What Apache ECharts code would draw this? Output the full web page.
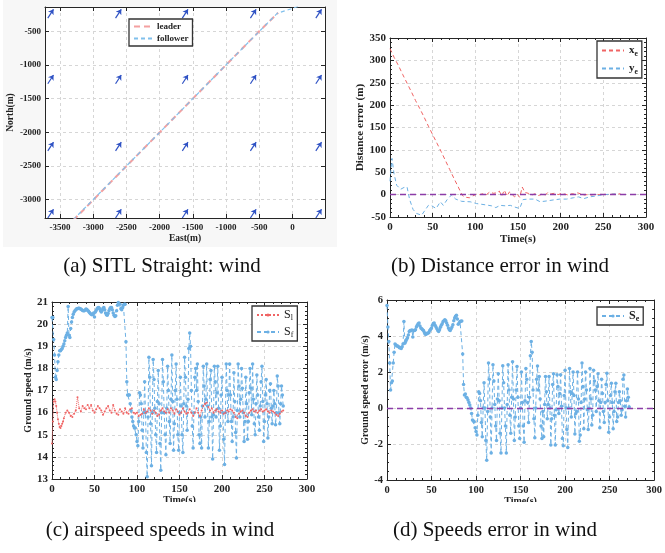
<!DOCTYPE html>
<html><head><meta charset="utf-8">
<script src="https://cdn.jsdelivr.net/npm/echarts@6/dist/echarts.min.js"></script>
<style>html,body{margin:0;padding:0;background:#fff}#c{width:665px;height:553px}</style>
</head><body><div id="c"></div>
<script>
// ---------- (a) SITL straight: wind ----------
const eastTicks = [-3500,-3000,-2500,-2000,-1500,-1000,-500,0];
const northTicks = [-3000,-2500,-2000,-1500,-1000,-500];
const leaderPath = [[-3300,-3310],[-2500,-2505],[-1500,-1502],[-500,-500],[-216,-226]];
const followerPath = [[-3300,-3300],[-2000,-2005],[-1000,-1000],[-230,-235],[105,-126]];
const windEast = [-3640,-2620,-1615,-590,395];
const windNorth = [-3210,-2213,-1215,-240];
const windVec = [86,130];

// ---------- (b) distance error ----------
const xeData = [[0,326],[5,306],[10,288],[15,268],[20,249],[25,230],[30,210],[35,192],[40,173],[45,153],[50,134],[55,115],[60,96],[65,76],[70,56],[75,36],[80,17],[84,1],[86,-4],[89,-6],[93,-7],[97,-3],[101,1],[105,0],[109,2],[113,0],[117,6],[121,3],[125,4],[128,8],[131,-3],[134,10],[137,-3],[140,6],[142,4],[146,-5],[149,1],[152,-6],[155,17],[158,5],[162,3],[166,-1],[170,2],[174,-2],[178,1],[182,-1],[185,5],[189,2],[193,3],[197,0],[201,3],[205,1],[209,-1],[213,2],[217,1],[220,4],[224,1],[227,-1],[231,0],[236,-1],[241,1],[245,0],[250,1],[255,0],[260,1],[265,1],[270,2]];
const yeData = [[0,30],[1,32],[2.3,81],[4.7,47],[7.8,21],[12.5,12],[16.4,16],[20,17],[23,-11],[27,-33],[31,-42],[37,-46],[41,-35],[45,-24],[49,-25],[54,-31],[59,-16],[62.5,-24],[67,-11],[72,-1],[77,-10],[84,-15],[94,-16],[101.5,-20],[109,-22],[119,-25],[124,-29],[129,-24],[135,-25],[141,-24],[146.5,-28],[152,-31],[154,-33],[156,-11],[162,-10],[170,-10],[176,-16],[184,-14],[191,-12],[199,-10],[207,-10],[215,-7],[221,-5],[227,-9],[234,-5],[242,-3],[250,0],[260,1],[267.5,2]];

// ---------- (c) speeds ----------
const slData = [[0,14.6],[1,15.6],[2,16.5],[3,16.6],[4,16.5],[5,16.3],[6,16.0],[7,15.7],[8,15.5],[9,15.35],[10,15.3],[11,15.4],[12,15.5],[13,15.6],[14,15.75],[16,16.0],[18,16.1],[20,16.0],[22,15.85],[24,15.8],[26,15.95],[28,16.1],[30,16.7],[32,16.2],[34,16.05],[36,16.3],[38,16.2],[40,16.15],[42,16.35],[44,16.2],[46,16.35],[48,16.1],[50,16.0],[52,16.15],[54,16.3],[56,16.2],[58,16.1],[60,15.9],[62,16.05],[64,16.2],[66,16.3],[68,16.1],[70,16.0],[72,16.35],[74,16.1],[76,15.95],[78,15.9],[80,16.15],[82,16.05],[84,15.95],[86,16.2],[88,16.0],[90,15.95],[92,16.15],[94,16.2],[96,16.0],[98,15.95],[100,16.0],[102,15.85],[104,15.9],[106,15.95],[108,16.15],[110,16.0],[112,16.05],[114,16.2],[116,16.1],[118,15.95],[120,16.1],[122,16.0],[124,15.85],[126,15.9],[128,16.1],[130,16.2],[132,16.05],[134,16.0],[136,16.15],[138,16.0],[140,16.2],[142,16.1],[144,15.95],[146,16.15],[148,16.05],[150,15.9],[152,16.0],[154,16.2],[156,16.05],[158,15.95],[160,16.0],[162,16.15],[164,16.0],[166,15.85],[168,16.0],[170,16.2],[172,16.0],[174,15.85],[176,16.1],[178,16.3],[180,16.4],[182,16.45],[184,16.25],[186,16.1],[188,16.2],[190,16.0],[192,16.1],[194,16.15],[196,16.05],[198,16.0],[200,16.1],[202,15.95],[204,16.0],[206,16.1],[208,16.05],[210,16.15],[212,16.1],[214,16.0],[216,15.8],[218,15.75],[220,15.95],[222,16.05],[224,16.1],[226,16.0],[228,15.85],[230,15.8],[232,16.0],[234,16.1],[236,16.15],[238,16.05],[240,16.1],[242,16.0],[244,16.1],[246,16.15],[248,16.05],[250,16.1],[252,16.15],[254,16.05],[256,16.0],[258,16.1],[260,16.05],[262,16.0],[264,15.9],[266,15.85],[268,15.95],[270,16.05],[272,16.1]];
const sfData = [[0,20.3],[1,20.3],[2,19.3],[3,18.6],[4,17.6],[5,17.5],[6,17.9],[7,18.3],[8,18.6],[9,18.8],[10,18.8],[11,18.85],[12,18.9],[13,19.0],[14,19.1],[15,19.25],[16,19.4],[17,19.5],[18,19.6],[19,20.8],[20,19.5],[21,19.4],[22,19.8],[23,20.1],[24,20.3],[25,20.45],[26,20.55],[27,20.6],[28,20.65],[29,20.7],[30,20.7],[31,20.72],[32,20.72],[33,20.7],[34,20.68],[35,20.65],[36,20.62],[37,20.6],[38,20.6],[39,20.64],[40,20.68],[41,20.66],[42,20.62],[43,20.58],[44,20.52],[45,20.48],[46,20.45],[47,20.42],[48,20.45],[49,20.5],[50,20.32],[51,20.55],[52,20.62],[53,20.7],[54,20.74],[55,20.75],[56,20.7],[57,20.6],[58,20.55],[59,20.62],[60,20.72],[61,20.75],[62,20.65],[63,20.5],[64,20.42],[65,20.4],[66,20.48],[67,20.6],[68,20.7],[69,20.75],[70,20.75],[71,20.65],[72,20.5],[73,20.4],[74,20.35],[75,20.38],[76,20.6],[77,20.85],[78,20.98],[79,21.05],[80,20.9],[81,20.7],[82,20.65],[83,20.75],[84,20.85],[85,20.9],[86,20.9],[87,19.2],[88,17.4],[89,16.8],
[90,16.8],[91,16.8],[92,16.4],[93,16.1],[94,15.8],[95,15.6],[96,15.4],[97,15.3],[98,15.3],[99,15.0],[100,14.7],[101,14.5],[102,15.6],[103,16.9],[104,16.8],[105,16.4],[106,15.2],[107,14.4],[108,16.0],[109,17.4],[110,16.0],[111,14.2],[112,13.1],[113,15.8],[114,18.5],[115,17.6],[116,15.5],[117,13.6],[118,16.0],[119,18.4],[120,17.5],[121,16.2],[122,15.0],[123,14.2],[124,16.5],[125,17.9],[126,16.4],[127,14.6],[128,13.4],[129,16.0],[130,18.4],[131,17.4],[132,16.0],[133,15.0],[134,14.1],[135,16.2],[136,18.1],[137,17.0],[138,15.6],[139,14.6],[140,16.6],[141,18.6],[142,16.5],[143,14.3],[144,15.5],[145,17.0],[146,18.2],[147,16.6],[148,15.0],[149,14.3],[150,16.0],[151,17.6],[152,16.3],[153,15.0],[154,14.2],[155,16.4],[156,18.5],[157,17.6],[158,16.3],[159,15.2],[160,16.6],[161,18.9],[162,19.6],[163,19.0],[164,17.0],[165,15.4],[166,14.4],[167,16.0],[168,17.6],[169,18.0],[170,17.0],[171,18.2],[172,16.5],[173,15.0],[174,14.6],[175,15.8],[176,14.4],[177,16.3],[178,18.1],[179,17.2],[180,15.8],[181,16.6],[182,18.2],[183,16.3],[184,14.4],[185,15.6],[186,17.5],[187,17.9],[188,15.8],[189,13.9],[190,15.9],[191,18.1],[192,17.4],[193,15.8],[194,16.9],[195,18.1],[196,16.2],[197,14.3],[198,15.4],[199,16.8],[200,17.6],[201,16.0],[202,14.8],[203,13.65],[204,16.0],[205,18.2],[206,17.0],[207,15.6],[208,16.8],[209,18.2],[210,16.8],[211,15.6],[212,14.7],[213,15.8],[214,17.8],[215,16.5],[216,15.1],[217,13.95],[218,16.1],[219,18.2],[220,17.2],[221,15.8],[222,16.6],[223,18.0],[224,17.1],[225,16.0],[226,14.7],[227,15.6],[228,17.6],[229,16.4],[230,14.8],[231,15.6],[232,16.9],[233,18.0],[234,17.1],[235,15.9],[236,18.2],[237,16.6],[238,15.5],[239,15.0],[240,16.4],[241,17.7],[242,16.8],[243,15.8],[244,15.2],[245,16.3],[246,17.4],[247,18.1],[248,16.5],[249,14.7],[250,15.6],[251,16.8],[252,17.5],[253,16.4],[254,14.85],[255,15.8],[256,17.0],[257,17.3],[258,16.2],[259,15.5],[260,16.3],[261,17.0],[262,16.4],[263,15.45],[264,16.0],[265,17.65],[266,17.2],[267,16.0],[268,15.5],[269,16.4],[270,17.2],[271,16.8],[272,16.3]];

// ---------- (d) speed error ----------
const seData = [[0,5.7],[1,4.5],[2,3.7],[3,2.5],[4,1.0],[5,1.4],[6,1.5],[7,2.5],[8,3.1],[9,3.55],[10,3.5],[11,3.45],[12,3.45],[13,3.4],[14,3.35],[15,3.35],[16,3.3],[17,3.4],[18,3.55],[19,4.8],[20,3.6],[21,3.7],[22,3.8],[23,3.9],[24,4.05],[25,4.25],[26,4.3],[27,4.3],[28,4.33],[29,3.95],[30,4.3],[31,4.3],[32,4.35],[33,4.5],[34,4.6],[35,4.68],[36,4.72],[37,4.55],[38,4.45],[39,4.4],[40,4.35],[41,4.3],[42,4.2],[43,4.1],[44,4.1],[45,4.15],[46,4.15],[47,4.2],[48,4.3],[49,4.38],[50,4.45],[51,4.6],[52,4.7],[53,4.72],[54,4.6],[55,4.5],[56,4.4],[57,4.3],[58,4.25],[59,4.35],[60,4.48],[61,4.6],[62,4.68],[63,4.8],[64,4.85],[65,4.9],[66,4.85],[67,4.72],[68,4.6],[69,4.45],[70,4.35],[71,4.3],[72,4.4],[73,4.5],[74,4.62],[75,4.85],[76,5.0],[77,5.1],[78,5.15],[79,4.95],[80,4.65],[81,4.72],[82,4.8],[83,4.82],[84,4.83],[85,3.0],[86,1.3],[87,0.72],[88,0.78],[89,0.6],[90,0.55],[91,0.44],[92,0.3],[93,0.17],[94,0.0],[95,-0.3],[96,-0.67],[97,-0.72],[98,-0.76],[99,-1.1],[100,-1.3],
[101,-1.5],[102,-0.4],[103,0.9],[104,0.8],[105,0.4],[106,-0.8],[107,-1.6],[108,0.0],[109,1.4],[110,0.0],[111,-1.8],[112,-2.9],[113,-0.2],[114,2.5],[115,1.6],[116,-0.5],[117,-2.5],[118,0.0],[119,2.4],[120,1.5],[121,0.2],[122,-1.0],[123,-1.8],[124,0.5],[125,1.9],[126,0.4],[127,-1.4],[128,-2.5],[129,0.0],[130,2.35],[131,1.4],[132,0.0],[133,-1.0],[134,-2.5],[135,0.2],[136,2.4],[137,1.0],[138,-0.4],[139,-1.4],[140,0.6],[141,2.57],[142,0.5],[143,-1.8],[144,-0.5],[145,1.0],[146,2.3],[147,0.6],[148,-1.0],[149,-1.7],[150,0.0],[151,2.0],[152,0.3],[153,-1.0],[154,-1.9],[155,0.4],[156,2.2],[157,1.6],[158,0.3],[159,-0.8],[160,0.6],[161,2.9],[162,3.7],[163,3.1],[164,1.0],[165,-0.6],[166,-1.65],[167,0.0],[168,1.6],[169,2.33],[170,1.0],[171,1.75],[172,0.5],[173,-1.0],[174,-1.7],[175,-0.2],[176,-1.6],[177,0.2],[178,1.75],[179,0.9],[180,-0.6],[181,0.2],[182,1.75],[183,0.0],[184,-2.05],[185,-0.6],[186,1.3],[187,1.9],[188,-0.4],[189,-2.05],[190,-0.1],[191,1.85],[192,1.2],[193,-0.3],[194,0.8],[195,1.85],[196,0.1],[197,-1.7],[198,-2.1],[199,0.7],[200,2.1],[201,0.0],[202,-1.2],[203,-2.2],[204,0.0],[205,2.2],[206,0.9],[207,-0.5],[208,0.8],[209,2.0],[210,0.7],[211,-1.45],[212,-0.3],[213,-0.2],[214,2.0],[215,0.5],[216,-1.85],[217,-1.5],[218,0.3],[219,2.5],[220,1.2],[221,-1.15],[222,0.5],[223,2.0],[224,1.0],[225,-0.1],[226,-1.2],[227,0.0],[228,2.2],[229,0.5],[230,-0.95],[231,-0.4],[232,2.1],[233,1.5],[234,1.0],[235,-0.2],[236,1.2],[237,1.9],[238,0.4],[239,-1.1],[240,0.3],[241,1.6],[242,0.8],[243,-0.2],[244,-0.8],[245,0.3],[246,1.3],[247,1.93],[248,0.4],[249,-1.35],[250,-0.5],[251,0.7],[252,1.37],[253,0.3],[254,-1.15],[255,-0.2],[256,0.9],[257,1.37],[258,-0.75],[259,-0.5],[260,0.3],[261,0.9],[262,0.4],[263,-0.4],[264,-0.1],[265,1.6],[266,1.83],[267,0.1],[268,-0.5],[269,0.4],[270,1.05],[271,0.6],[272,0.06]];

const captions = ['(a) SITL Straight: wind','(b) Distance error in wind','(c) airspeed speeds in wind','(d) Speeds error in wind'];

// ---------- chart ----------
const FONT = '"Liberation Serif", "Times New Roman", serif';
const AX = '#262626';
const GRIDC = '#d6d6d6';
const RED = '#f06464', BLUE = '#6cb0e4', PURPLE = '#8c3ca8';
const plainNum = v => String(v);

function xAxes(gi, min, max, interval, minor, custom, lblSize, name, nameSize, nameGap) {
  const tick = {show:true, inside:true, length:4, lineStyle:{color:AX}};
  if (custom) tick.customValues = custom;
  const mt = minor ? {show:true, splitNumber:minor, length:2, lineStyle:{color:AX}} : {show:false};
  const lbl = {show:true, margin:5, fontFamily:FONT, fontWeight:'bold', fontSize:lblSize, color:'#222', formatter:plainNum};
  if (custom) lbl.customValues = custom;
  const line = {show:true, onZero:false, lineStyle:{color:AX, width:1}};
  return [
    {type:'value', gridIndex:gi, position:'bottom', min, max, interval, axisLine:line, axisTick:tick, minorTick:mt, axisLabel:lbl,
     splitLine:{show:true, lineStyle:{color:GRIDC, type:[3,3], width:1}}, minorSplitLine:{show:false},
     name, nameLocation:'middle', nameGap, nameTextStyle:{fontFamily:FONT, fontWeight:'bold', fontSize:nameSize, color:'#222'}},
    {type:'value', gridIndex:gi, position:'top', min, max, interval, axisLine:line, axisTick:tick, minorTick:mt, axisLabel:{show:false}, splitLine:{show:false}}
  ];
}
function yAxes(gi, min, max, interval, minor, custom, lblSize, name, nameSize, nameGap) {
  const tick = {show:true, inside:true, length:4, lineStyle:{color:AX}};
  if (custom) tick.customValues = custom;
  const mt = minor ? {show:true, splitNumber:minor, length:2, lineStyle:{color:AX}} : {show:false};
  const lbl = {show:true, margin:4, fontFamily:FONT, fontWeight:'bold', fontSize:lblSize, color:'#222', formatter:plainNum};
  if (custom) lbl.customValues = custom;
  const line = {show:true, onZero:false, lineStyle:{color:AX, width:1}};
  return [
    {type:'value', gridIndex:gi, position:'left', min, max, interval, axisLine:line, axisTick:tick, minorTick:mt, axisLabel:lbl,
     splitLine:{show:true, lineStyle:{color:GRIDC, type:[3,3], width:1}},
     name, nameLocation:'middle', nameGap, nameRotate:90, nameTextStyle:{fontFamily:FONT, fontWeight:'bold', fontSize:nameSize, color:'#222'}},
    {type:'value', gridIndex:gi, position:'right', min, max, interval, axisLine:line, axisTick:tick, minorTick:mt, axisLabel:{show:false}, splitLine:{show:false}}
  ];
}

const windArrows = [];
windEast.forEach(e => windNorth.forEach(n => windArrows.push({coords:[[e - windVec[0]/2, n - windVec[1]/2],[e + windVec[0]/2, n + windVec[1]/2]]})));

const zeroLine = {silent:true, symbol:'none', label:{show:false}, lineStyle:{color:PURPLE, type:[6,4], width:1.3}, data:[{yAxis:0}]};

const legBase = {orient:'vertical', borderColor:'#333', borderWidth:1.3, backgroundColor:'#fff', borderRadius:0, itemGap:3, itemWidth:22, itemHeight:8,
  textStyle:{fontFamily:FONT, fontWeight:'bold', fontSize:10, color:'#222'}, selectedMode:false};
const noSym = {opacity:0, color:'transparent', borderWidth:0};

const option = {
  animation:false,
  backgroundColor:'#fff',
  grid:[
    {left:45, top:7, width:280, height:211, show:true, backgroundColor:'#fff', borderWidth:0},
    {left:390, top:38, width:256, height:179},
    {left:52, top:302, width:255, height:177},
    {left:387, top:300, width:271, height:180}
  ],
  xAxis:[
    ...xAxes(0, -3725, 490, undefined, 0, eastTicks, 9, 'East(m)', 9.5, 16),
    ...xAxes(1, 0, 300, 50, 5, null, 11, 'Time(s)', 11, 16),
    ...xAxes(2, 0, 300, 50, 5, null, 11, 'Time(s)', 10, 16),
    ...xAxes(3, 0, 300, 50, 5, null, 10.5, 'Time(s)', 10, 16)
  ],
  yAxis:[
    ...yAxes(0, -3275, -140, undefined, 0, northTicks, 9, 'North(m)', 9.5, 29),
    ...yAxes(1, -50, 350, 50, 5, null, 11, 'Distance error (m)', 11, 21),
    ...yAxes(2, 13, 21, 1, 5, null, 11, 'Ground speed (m/s)', 10, 13),
    ...yAxes(3, -4, 6, 2, 4, null, 10.5, 'Ground speed error (m/s)', 10, 13)
  ],
  legend:[
    Object.assign({}, legBase, {data:['leader','follower'], left:129, top:19, padding:[3,4,3,4], itemWidth:18, itemStyle:noSym,
      textStyle:{fontFamily:FONT, fontWeight:'bold', fontSize:9, color:'#222'}}),
    Object.assign({}, legBase, {data:['xe','ye'], left:597, top:41, padding:[2,4,2,4], itemStyle:noSym,
      formatter: n => n === 'xe' ? '{m|x}{s|e}' : '{m|y}{s|e}',
      textStyle:{fontFamily:FONT, fontWeight:'bold', color:'#222', rich:{m:{fontFamily:FONT, fontWeight:'bold', fontSize:11, lineHeight:14}, s:{fontFamily:FONT, fontWeight:'bold', fontSize:7.5, lineHeight:14, padding:[7,0,0,0]}}}}),
    Object.assign({}, legBase, {data:['Sl','Sf'], left:252, top:306, padding:[2,4,2,4], itemHeight:4,
      formatter: n => n === 'Sl' ? '{m|S}{s|l}' : '{m|S}{s|f}',
      textStyle:{fontFamily:FONT, color:'#222', rich:{m:{fontFamily:FONT, fontSize:12, lineHeight:13}, s:{fontFamily:FONT, fontSize:8, lineHeight:13, padding:[6,0,0,0]}}}}),
    Object.assign({}, legBase, {data:['Se'], left:597, top:307, padding:[2,4,2,4], itemHeight:4,
      formatter: () => '{m|S}{s|e}',
      textStyle:{fontFamily:FONT, fontWeight:'bold', color:'#222', rich:{m:{fontFamily:FONT, fontWeight:'bold', fontSize:12, lineHeight:13}, s:{fontFamily:FONT, fontWeight:'bold', fontSize:8, lineHeight:13, padding:[6,0,0,0]}}}})
  ],
  series:[
    {type:'lines', coordinateSystem:'cartesian2d', xAxisIndex:0, yAxisIndex:0, data:windArrows, silent:true,
     symbol:['none','arrow'], symbolSize:5, lineStyle:{color:'#2f52c4', width:1.2, opacity:1}},
    {type:'line', name:'leader', xAxisIndex:0, yAxisIndex:0, data:leaderPath, symbol:'none', clip:true,
     lineStyle:{color:'#f4a0a0', width:2, type:[6,4]}, itemStyle:{color:'#f4a0a0'}},
    {type:'line', name:'follower', xAxisIndex:0, yAxisIndex:0, data:followerPath, symbol:'none', clip:true,
     lineStyle:{color:'#80c0ec', width:1.2, type:[4,3]}, itemStyle:{color:'#80c0ec'}},

    {type:'line', name:'xe', xAxisIndex:2, yAxisIndex:2, data:xeData, symbol:'none', clip:true,
     lineStyle:{color:RED, width:1, type:[4,3]}, itemStyle:{color:RED}, markLine:zeroLine},
    {type:'line', name:'ye', xAxisIndex:2, yAxisIndex:2, data:yeData, symbol:'none', clip:true,
     lineStyle:{color:BLUE, width:1, type:[4,3]}, itemStyle:{color:BLUE}},

    {type:'line', name:'Sf', xAxisIndex:4, yAxisIndex:4, data:sfData, symbol:'circle', symbolSize:3.5, showSymbol:true, clip:true,
     lineStyle:{color:BLUE, width:1, type:[4,3]}, itemStyle:{color:BLUE}},
    {type:'line', name:'Sl', xAxisIndex:4, yAxisIndex:4, data:slData, symbol:'circle', symbolSize:2, showSymbol:true, clip:true,
     lineStyle:{color:RED, width:1, type:'dotted'}, itemStyle:{color:RED}},

    {type:'line', name:'Se', xAxisIndex:6, yAxisIndex:6, data:seData, symbol:'circle', symbolSize:3.5, showSymbol:true, clip:true,
     lineStyle:{color:BLUE, width:1, type:[4,3]}, itemStyle:{color:BLUE}, markLine:zeroLine}
  ],
  graphic:[
    {type:'rect', z:-10, silent:true, shape:{x:3, y:0, width:334, height:247}, style:{fill:'#f7f7f7'}},
    {type:'rect', z:100, silent:true, shape:{x:0, y:502, width:665, height:10}, style:{fill:'#fff'}},
    {type:'text', x:162, y:266, silent:true, style:{text:captions[0], font:'21px "Liberation Serif"', fill:'#111', align:'center', verticalAlign:'middle'}},
    {type:'text', x:500, y:266, silent:true, style:{text:captions[1], font:'21px "Liberation Serif"', fill:'#111', align:'center', verticalAlign:'middle'}},
    {type:'text', x:160, y:530, silent:true, style:{text:captions[2], font:'21px "Liberation Serif"', fill:'#111', align:'center', verticalAlign:'middle'}},
    {type:'text', x:495, y:530, silent:true, style:{text:captions[3], font:'21px "Liberation Serif"', fill:'#111', align:'center', verticalAlign:'middle'}}
  ]
};
const chart = echarts.init(document.getElementById('c'), null, {renderer:'canvas', width:665, height:553});
chart.setOption(option);
</script></body></html>
